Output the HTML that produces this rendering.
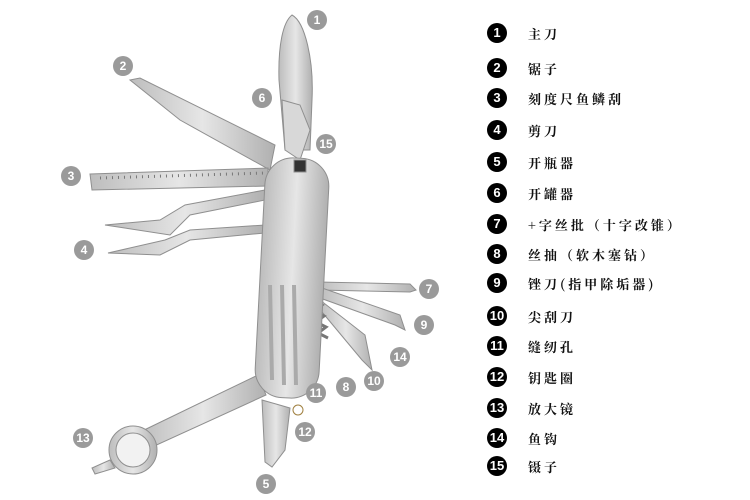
<!DOCTYPE html>
<html><head><meta charset="utf-8"><style>
body{margin:0;background:#fff;width:750px;height:500px;overflow:hidden;font-family:"Liberation Sans","Noto Serif CJK SC",serif}
.leg{position:absolute;left:487px;height:20px}
.leg b{position:absolute;left:0;top:0;width:20px;height:20px;border-radius:50%;background:#000;color:#fff;font:bold 13px/20px "Liberation Sans",sans-serif;text-align:center}
.leg span{position:absolute;left:41px;top:1px;font-size:13px;letter-spacing:3px;white-space:nowrap;color:#111;font-weight:bold;font-family:"Noto Serif CJK SC","Liberation Serif",serif}
</style></head><body>
<svg width="750" height="500" style="position:absolute;left:0;top:0">
<defs><linearGradient id="g" x1="0" x2="1"><stop offset="0" stop-color="#bdbdbd"/><stop offset=".5" stop-color="#e6e6e6"/><stop offset="1" stop-color="#b0b0b0"/></linearGradient></defs>
<g stroke="#8f8f8f" stroke-width="1" fill="url(#g)">
<path d="M130,80 L140,78 L275,145 L270,170 L180,120 Z"/>
<path d="M90,174 L268,168 L268,186 L92,190 Z"/>
<path d="M100,178 L265,173" stroke="#777" stroke-dasharray="1 5" stroke-width="3"/>
<path d="M105,225 L160,220 L185,205 L265,190 L265,200 L190,215 L170,235 Z"/>
<path d="M108,253 L165,240 L190,230 L265,225 L265,233 L190,240 L160,255 Z"/>
<path d="M292,15 C305,22 314,60 312,100 L310,150 L285,150 L279,80 C278,45 283,22 292,15 Z"/>
<path d="M282,100 L300,105 L310,130 L300,160 L285,150 Z" fill="#d8d8d8"/>
<path d="M318,282 L410,284 L416,290 L410,292 L318,290 Z"/>
<path d="M322,288 L400,315 L405,330 L395,325 L320,298 Z"/>
<path d="M320,300 L365,335 L372,370 L362,360 L322,312 Z"/>
<path d="M312,300 l10,5 l-8,6 l10,5 l-8,6 l10,5 l-8,6 l10,5" fill="none" stroke="#777" stroke-width="3"/>
<path d="M300,310 L312,310 L312,390 L300,390 Z"/>
<path d="M258,375 L266,395 L150,448 L140,432 Z"/>
<circle cx="133" cy="450" r="24"/>
<circle cx="133" cy="450" r="17" fill="#f2f2f2"/>
<path d="M110,460 L92,468 L95,474 L115,468 Z"/>
<path d="M262,400 L290,408 L285,450 L272,467 L265,462 Z"/>
<rect x="260" y="158" width="64" height="240" rx="28" transform="rotate(3 292 278)"/>
<path d="M270,285 L272,380 M282,285 L284,385 M294,285 L296,385" stroke="#aaa" stroke-width="4" fill="none"/>
<rect x="294" y="160" width="12" height="12" fill="#333"/>
<circle cx="298" cy="410" r="5" fill="none" stroke="#a08040"/>
</g>
<g fill="#9a9a9a" font-family="Liberation Sans,sans-serif" font-weight="bold" font-size="12" text-anchor="middle">
<g><circle cx="317" cy="20" r="10"/><circle cx="123" cy="66" r="10"/><circle cx="262" cy="98" r="10"/><circle cx="326" cy="144" r="10"/><circle cx="71" cy="176" r="10"/><circle cx="84" cy="250" r="10"/><circle cx="429" cy="289" r="10"/><circle cx="424" cy="325" r="10"/><circle cx="400" cy="357" r="10"/><circle cx="374" cy="381" r="10"/><circle cx="346" cy="387" r="10"/><circle cx="316" cy="393" r="10"/><circle cx="305" cy="432" r="10"/><circle cx="83" cy="438" r="10"/><circle cx="266" cy="484" r="10"/></g>
<g fill="#fff"><text x="317" y="24">1</text><text x="123" y="70">2</text><text x="262" y="102">6</text><text x="326" y="148">15</text><text x="71" y="180">3</text><text x="84" y="254">4</text><text x="429" y="293">7</text><text x="424" y="329">9</text><text x="400" y="361">14</text><text x="374" y="385">10</text><text x="346" y="391">8</text><text x="316" y="397">11</text><text x="305" y="436">12</text><text x="83" y="442">13</text><text x="266" y="488">5</text></g>
</g>
</svg>
<div class="leg" style="top:23px"><b>1</b><span>主刀</span></div>
<div class="leg" style="top:58px"><b>2</b><span>锯子</span></div>
<div class="leg" style="top:88px"><b>3</b><span>刻度尺鱼鳞刮</span></div>
<div class="leg" style="top:120px"><b>4</b><span>剪刀</span></div>
<div class="leg" style="top:152px"><b>5</b><span>开瓶器</span></div>
<div class="leg" style="top:183px"><b>6</b><span>开罐器</span></div>
<div class="leg" style="top:214px"><b>7</b><span>+字丝批（十字改锥）</span></div>
<div class="leg" style="top:244px"><b>8</b><span>丝抽（软木塞钻）</span></div>
<div class="leg" style="top:273px"><b>9</b><span>锉刀(指甲除垢器)</span></div>
<div class="leg" style="top:306px"><b>10</b><span>尖刮刀</span></div>
<div class="leg" style="top:336px"><b>11</b><span>缝纫孔</span></div>
<div class="leg" style="top:367px"><b>12</b><span>钥匙圈</span></div>
<div class="leg" style="top:398px"><b>13</b><span>放大镜</span></div>
<div class="leg" style="top:428px"><b>14</b><span>鱼钩</span></div>
<div class="leg" style="top:456px"><b>15</b><span>镊子</span></div>
</body></html>
